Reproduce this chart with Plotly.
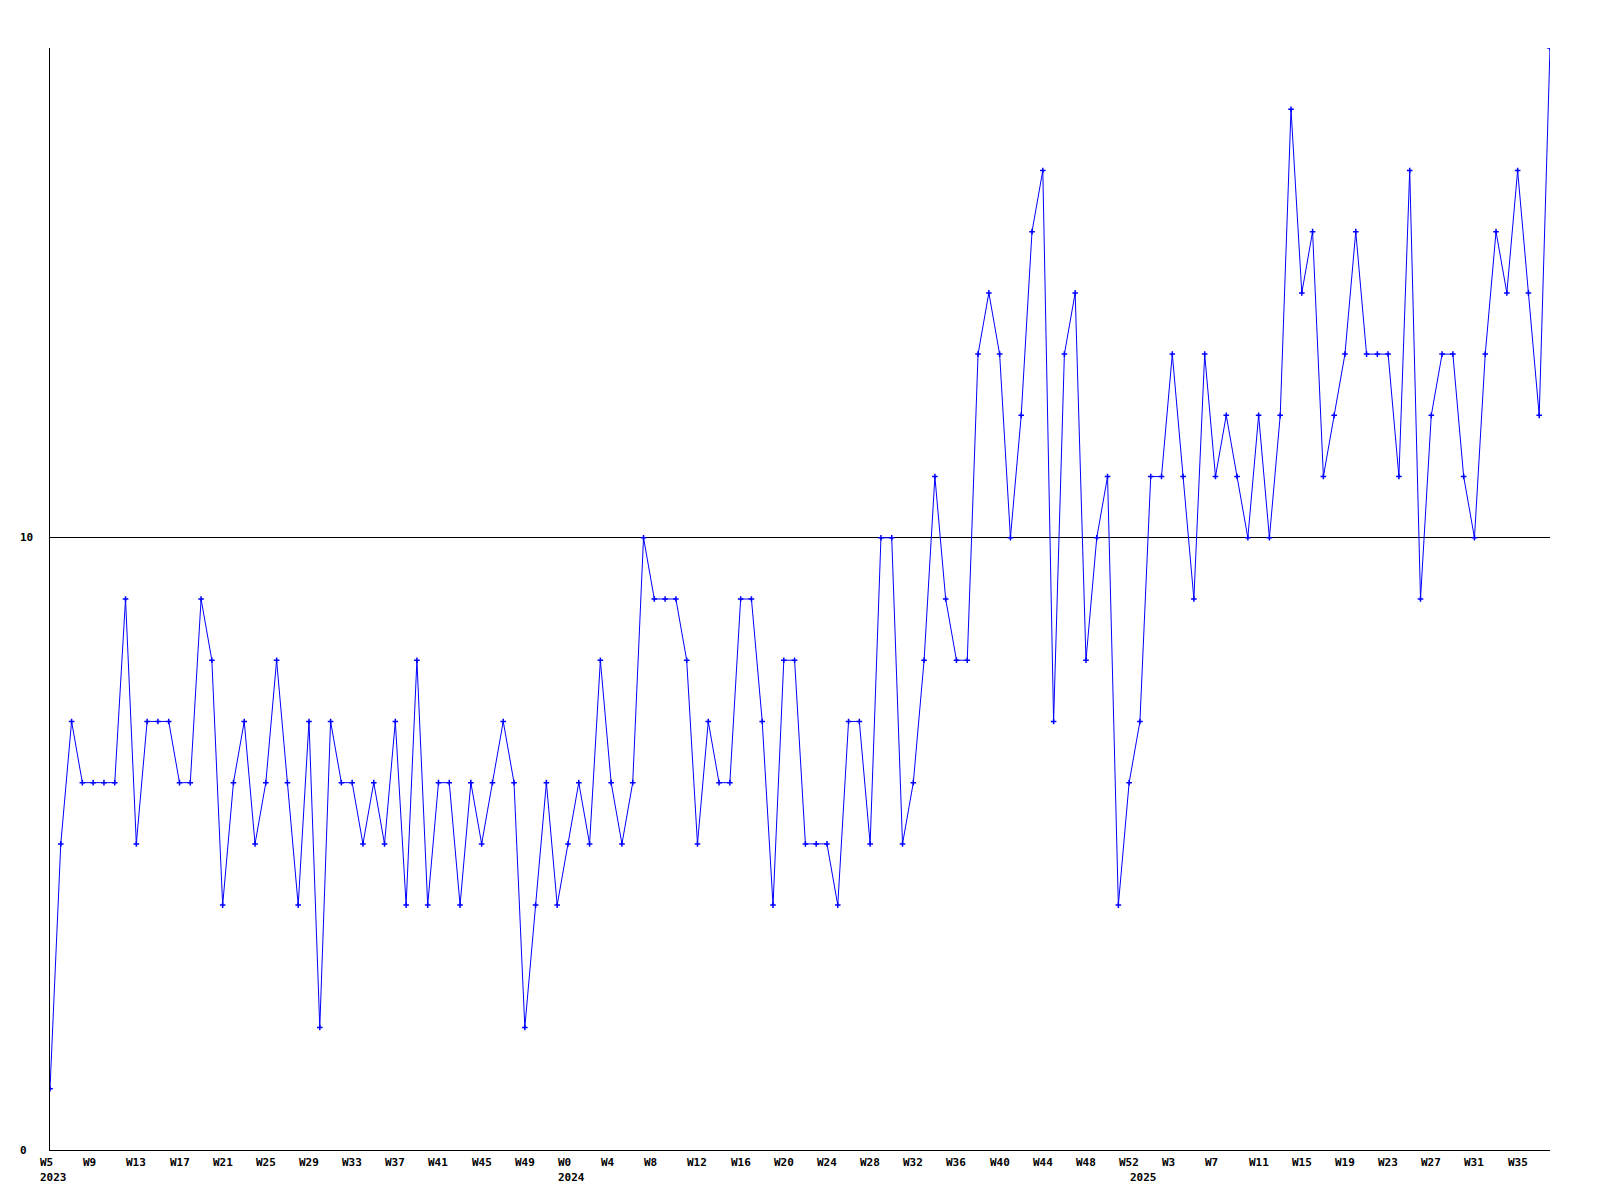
import plotly.graph_objects as go

# Weekly values, 2023 W5 .. 2025 W38
values = [
    1, 5, 7, 6, 6, 6, 6, 9, 5, 7, 7, 7, 6, 6, 9, 8, 4, 6,
    7, 5, 6, 8, 6, 4, 7, 2, 7, 6, 6, 5, 6, 5, 7, 4, 8, 4,
    6, 6, 4, 6, 5, 6, 7, 6, 2, 4, 6, 4, 5, 6, 5, 8, 6,
    5, 6, 10, 9, 9, 9, 8, 5, 7, 6, 6, 9, 9, 7, 4, 8, 8, 5,
    5, 5, 4, 7, 7, 5, 10, 10, 5, 6, 8, 11, 9, 8, 8, 13, 14, 13,
    10, 12, 15, 16, 7, 13, 14, 8, 10, 11, 4, 6, 7, 11, 11, 13, 11,
    9, 13, 11, 12, 11, 10, 12, 10, 12, 17, 14, 15, 11, 12, 13, 15, 13, 13,
    13, 11, 16, 9, 12, 13, 13, 11, 10, 13, 15, 14, 16, 14, 12, 18,
]

# Week tick labels (one every 4 points)
week_labels = [
    "W5", "W9", "W13", "W17", "W21", "W25", "W29", "W33", "W37", "W41", "W45", "W49",
    "W0", "W4", "W8", "W12", "W16", "W20", "W24", "W28", "W32", "W36", "W40", "W44", "W48", "W52",
    "W3", "W7", "W11", "W15", "W19", "W23", "W27", "W31", "W35",
]
# Year labels: first week index of each year
year_names = ["2023", "2024", "2025"]
year_start_index = [0, 48, 101]
y_ticks = [0, 10]

x = list(range(len(values)))
tick_pos = [4 * i for i in range(len(week_labels))]

FONT = dict(family="DejaVu Sans Mono", size=11, color="black", weight="bold")

fig = go.Figure()
fig.add_trace(go.Scatter(
    x=x, y=values, mode="lines+markers",
    line=dict(color="#0000FF", width=1),
    marker=dict(symbol="cross-thin", size=4, color="#0000FF",
                line=dict(color="#0000FF", width=1.5)),
    cliponaxis=True,
    hoverinfo="skip",
))

annotations = []
for p, lab in zip(tick_pos, week_labels):
    annotations.append(dict(x=p, y=0, xref="x", yref="y", text=lab,
                            showarrow=False, xanchor="left", yanchor="middle",
                            xshift=-12, yshift=-12, font=FONT))
for p, lab in zip(year_start_index, year_names):
    annotations.append(dict(x=p, y=0, xref="x", yref="y", text=lab,
                            showarrow=False, xanchor="left", yanchor="middle",
                            xshift=-12, yshift=-27, font=FONT))
for v in y_ticks:
    annotations.append(dict(x=-30 / 1500, y=v, xref="paper", yref="y", text=str(v),
                            showarrow=False, xanchor="left", yanchor="middle",
                            xshift=-2, font=FONT))

fig.update_layout(
    width=1600, height=1200,
    margin=dict(l=50, r=50, t=48, b=50, pad=0),
    paper_bgcolor="white", plot_bgcolor="white",
    showlegend=False,
    annotations=annotations,
    xaxis=dict(range=[0, len(values) - 1], showgrid=False, zeroline=False,
               showline=True, linecolor="black", linewidth=1,
               showticklabels=False, ticks=""),
    yaxis=dict(range=[0, 18], tickvals=y_ticks, showgrid=True, gridcolor="black",
               gridwidth=1, zeroline=False, showline=True, linecolor="black",
               linewidth=1, showticklabels=False, ticks=""),
)

fig.write_html("out.html", config={"displayModeBar": False},
               post_script="document.body.style.margin='0';")
